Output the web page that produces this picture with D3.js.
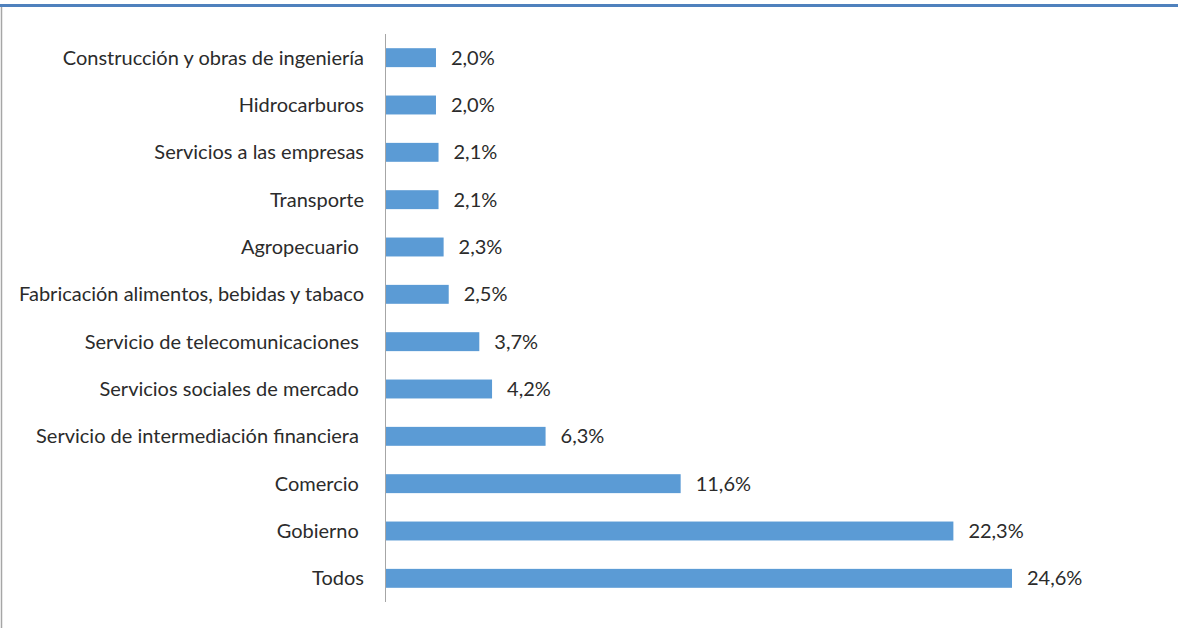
<!DOCTYPE html>
<html>
<head>
<meta charset="utf-8">
<script src="https://cdn.jsdelivr.net/npm/d3@7"></script>
<style>
  html, body { margin: 0; padding: 0; background: #fff; }
  svg { display: block; }
  text { white-space: pre; }
</style>
</head>
<body>
<svg id="chart" width="1178" height="628"></svg>
<script>
// Sector shares, top to bottom (some source labels carry a trailing space)
const categories = [
  "Construcción y obras de ingeniería",
  "Hidrocarburos",
  "Servicios a las empresas",
  "Transporte",
  "Agropecuario ",
  "Fabricación alimentos, bebidas y tabaco",
  "Servicio de telecomunicaciones ",
  "Servicios sociales de mercado ",
  "Servicio de intermediación financiera ",
  "Comercio ",
  "Gobierno ",
  "Todos"
];
const values = [2.0, 2.0, 2.1, 2.1, 2.3, 2.5, 3.7, 4.2, 6.3, 11.6, 22.3, 24.6];

const svg = d3.select("#chart");
const W = 1178, H = 628;

// Frame: blue top rule and thin grey left edge
svg.append("rect").attr("x", 0).attr("y", 4).attr("width", W).attr("height", 3).attr("fill", "#4F81BD");
svg.append("line").attr("x1", 1.5).attr("x2", 1.5).attr("y1", 7).attr("y2", H)
  .attr("stroke", "#A6A6A6").attr("stroke-width", 1.5);

const x0 = 385;
const x = d3.scaleLinear().domain([0, 24.6]).range([x0, 1012]);
const y = d3.scaleBand().domain(categories).range([34, 602]).paddingInner(0.6).paddingOuter(0.3);

const fmt = v => d3.format(".1f")(v).replace(".", ",") + "%";
const font = "Lato, 'Open Sans', sans-serif";
const fs = 20;

const data = categories.map((c, i) => ({ c, v: values[i] }));

svg.append("g").selectAll("rect").data(data).join("rect")
  .attr("x", x(0))
  .attr("y", d => y(d.c))
  .attr("width", d => x(d.v) - x(0))
  .attr("height", y.bandwidth())
  .attr("fill", "#5B9BD5");

// category axis line
svg.append("line").attr("x1", x0 + 0.5).attr("x2", x0 + 0.5).attr("y1", 34).attr("y2", 602)
  .attr("stroke", "#A6A6A6").attr("stroke-width", 1);

svg.append("g").selectAll("text").data(data).join("text")
  .attr("x", 364)
  .attr("y", d => y(d.c) + y.bandwidth() / 2)
  .attr("dy", "0.35em")
  .attr("text-anchor", "end")
  .attr("font-family", font)
  .attr("font-size", fs)
  .attr("fill", "#2B2B2B")
  .text(d => d.c);

svg.append("g").selectAll("text").data(data).join("text")
  .attr("x", d => x(d.v) + 15)
  .attr("y", d => y(d.c) + y.bandwidth() / 2)
  .attr("dy", "0.35em")
  .attr("font-family", font)
  .attr("font-size", fs)
  .attr("fill", "#2B2B2B")
  .text(d => fmt(d.v));
</script>
</body>
</html>
